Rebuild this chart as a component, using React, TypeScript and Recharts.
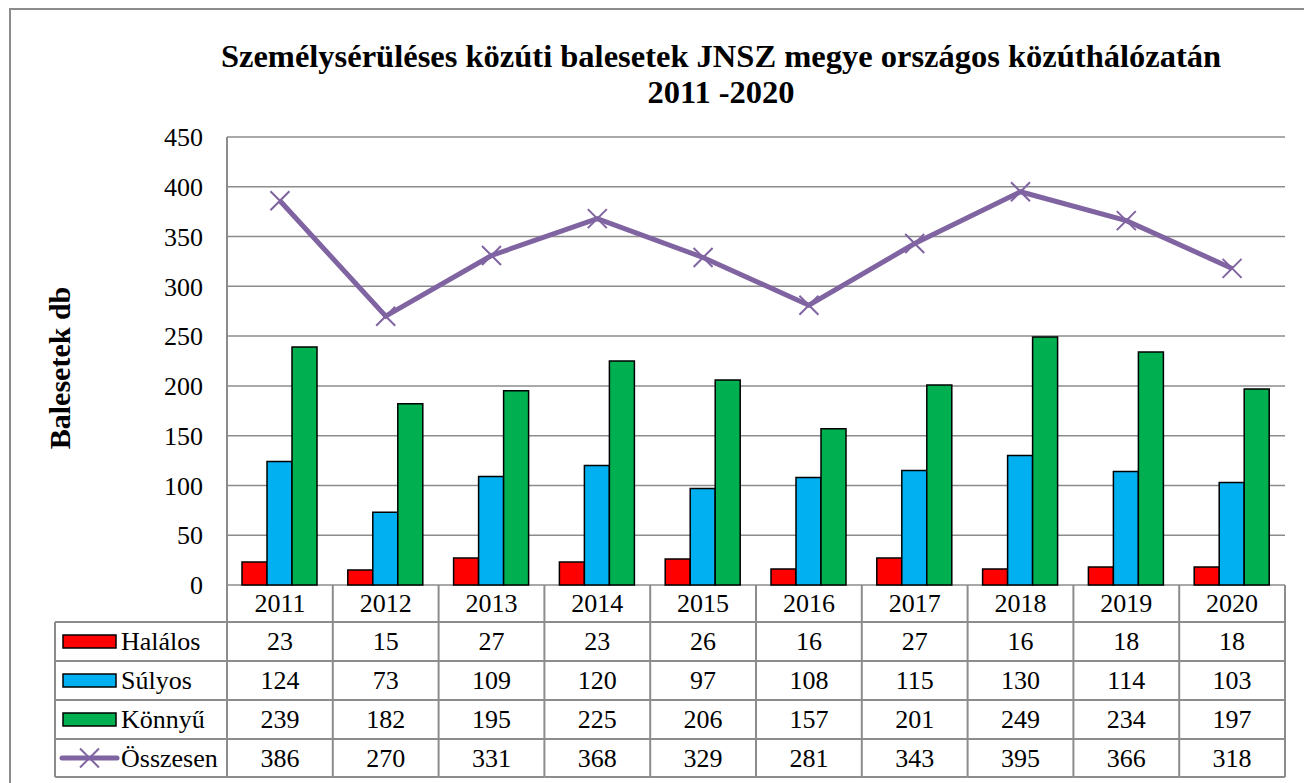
import React from 'react'
import { ComposedChart, Bar, Line, XAxis, YAxis, CartesianGrid } from 'recharts'

// values
const years = ['2011', '2012', '2013', '2014', '2015', '2016', '2017', '2018', '2019', '2020']
const halalos = [23, 15, 27, 23, 26, 16, 27, 16, 18, 18]
const sulyos = [124, 73, 109, 120, 97, 108, 115, 130, 114, 103]
const konnyu = [239, 182, 195, 225, 206, 157, 201, 249, 234, 197]
const osszesen = [386, 270, 331, 368, 329, 281, 343, 395, 366, 318]
const yTicks = [0, 50, 100, 150, 200, 250, 300, 350, 400, 450]

const data = years.map((year, i) => ({
  year,
  halalos: halalos[i],
  sulyos: sulyos[i],
  konnyu: konnyu[i],
  osszesen: osszesen[i],
}))

const FONT = 'Liberation Serif'
const GRID = '#8c8c8c'
const PURPLE = '#8064A2'

const W = 1304
const H = 783
const PLOT_LEFT = 227
const PLOT_RIGHT = 1285
const BAND = (PLOT_RIGHT - PLOT_LEFT) / years.length
const LEGEND_LEFT = 55
// table row edges, measured from the x axis line
const ROWS = [0, 37, 76, 115, 154, 192]

const series = [
  { name: 'Halálos', key: 'halalos', color: '#FF0000', values: halalos },
  { name: 'Súlyos', key: 'sulyos', color: '#00B0F0', values: sulyos },
  { name: 'Könnyű', key: 'konnyu', color: '#00B050', values: konnyu },
  { name: 'Összesen', key: 'osszesen', color: PURPLE, values: osszesen },
]

const XDot = (props: any) => {
  const { cx, cy } = props
  if (cx == null || cy == null) return null
  const s = 9.5
  return (
    <path
      d={`M${cx - s},${cy - s}L${cx + s},${cy + s}M${cx - s},${cy + s}L${cx + s},${cy - s}`}
      stroke={PURPLE}
      strokeWidth={2}
      fill="none"
    />
  )
}

const Cell = ({ x, y, anchor = 'middle', children }: any) => (
  <text x={x} y={y} textAnchor={anchor} dominantBaseline="central" fontFamily={FONT} fontSize={26} fill="#000">
    {children}
  </text>
)

// each x tick draws one column of the data table (and the legend column for the first one)
const TableTick = (props: any) => {
  const { x, y, payload, index } = props
  const i = payload?.index ?? index
  const left = x - BAND / 2
  const right = x + BAND / 2
  const mid = (r: number) => y + (ROWS[r] + ROWS[r + 1]) / 2

  return (
    <g>
      <Cell x={x} y={mid(0)}>
        {payload.value}
      </Cell>
      {series.map((s, r) => (
        <Cell key={s.key} x={x} y={mid(r + 1)}>
          {s.values[i]}
        </Cell>
      ))}
      {ROWS.slice(1).map((r) => (
        <line key={r} x1={left} x2={right} y1={y + r} y2={y + r} stroke={GRID} strokeWidth={2} />
      ))}
      <line x1={right} x2={right} y1={y} y2={y + ROWS[5]} stroke={GRID} strokeWidth={2} />
      {i === 0 && (
        <g>
          <line x1={left} x2={left} y1={y} y2={y + ROWS[5]} stroke={GRID} strokeWidth={2} />
          <line x1={LEGEND_LEFT} x2={LEGEND_LEFT} y1={y + ROWS[1]} y2={y + ROWS[5]} stroke={GRID} strokeWidth={2} />
          {ROWS.slice(1).map((r) => (
            <line key={r} x1={LEGEND_LEFT} x2={left} y1={y + r} y2={y + r} stroke={GRID} strokeWidth={2} />
          ))}
          {series.map((s, r) => {
            const cy = mid(r + 1)
            return (
              <g key={s.key}>
                {r < 3 ? (
                  <rect x={63} y={cy - 6.5} width={53} height={13} fill={s.color} stroke="#000" strokeWidth={1.5} />
                ) : (
                  <g>
                    <line x1={62} x2={117} y1={cy} y2={cy} stroke={PURPLE} strokeWidth={5} strokeLinecap="round" />
                    <XDot cx={89.5} cy={cy} />
                  </g>
                )}
                <Cell x={121} y={cy} anchor="start">
                  {s.name}
                </Cell>
              </g>
            )
          })}
        </g>
      )}
    </g>
  )
}

export default function App() {
  return (
    <div style={{ position: 'relative', width: W, height: H, overflow: 'hidden', background: '#fff', fontFamily: FONT }}>
      <style>{'body{margin:0}'}</style>
      <div
        style={{
          position: 'absolute',
          left: 9,
          top: 8,
          width: W,
          height: H,
          border: '2px solid #8c8c8c',
          boxSizing: 'border-box',
        }}
      />
      <div
        style={{
          position: 'absolute',
          left: 0,
          width: 1442,
          top: 38,
          textAlign: 'center',
          fontWeight: 'bold',
          fontSize: 32.5,
          lineHeight: '36px',
        }}
      >
        Személysérüléses közúti balesetek JNSZ megye országos közúthálózatán
        <br />
        2011 -2020
      </div>
      <div
        style={{
          position: 'absolute',
          left: 60,
          top: 368,
          transform: 'translate(-50%, -50%) rotate(-90deg)',
          fontWeight: 'bold',
          fontSize: 30,
          whiteSpace: 'nowrap',
        }}
      >
        Balesetek db
      </div>
      <div style={{ position: 'absolute', left: 0, top: 0 }}>
        <ComposedChart
          width={W}
          height={H}
          data={data}
          margin={{ top: 137, right: W - PLOT_RIGHT, bottom: 0, left: 0 }}
          barGap={0}
        >
          <CartesianGrid horizontal vertical={false} stroke={GRID} strokeWidth={1.5} />
          <XAxis
            dataKey="year"
            height={H - 585}
            axisLine={false}
            tickLine={false}
            tickSize={0}
            tickMargin={0}
            interval={0}
            tick={<TableTick />}
          />
          <YAxis
            width={PLOT_LEFT}
            domain={[0, 450]}
            ticks={yTicks}
            interval={0}
            axisLine={{ stroke: GRID, strokeWidth: 2 }}
            tickLine={false}
            tickSize={0}
            tickMargin={24}
            tick={{ fontFamily: FONT, fontSize: 26, fill: '#000' }}
          />
          {series.slice(0, 3).map((s) => (
            <Bar
              key={s.key}
              dataKey={s.key}
              name={s.name}
              fill={s.color}
              stroke="#000"
              strokeWidth={1.5}
              barSize={25}
              isAnimationActive={false}
            />
          ))}
          <Line
            dataKey="osszesen"
            name="Összesen"
            stroke={PURPLE}
            strokeWidth={5}
            dot={<XDot />}
            activeDot={false}
            isAnimationActive={false}
          />
        </ComposedChart>
      </div>
    </div>
  )
}
